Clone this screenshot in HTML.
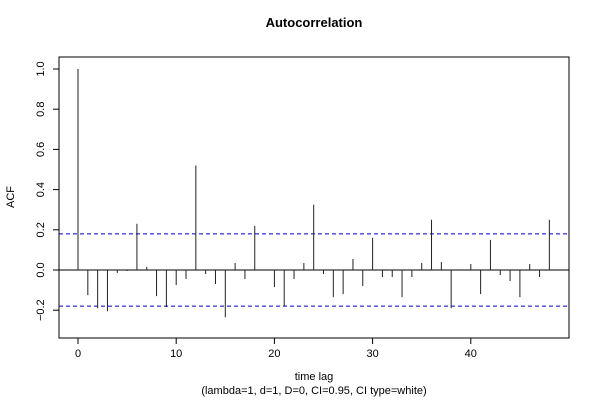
<!DOCTYPE html>
<html><head><meta charset="utf-8"><style>body{margin:0;background:#fff}svg{display:block;font-family:"Liberation Sans",sans-serif}</style></head>
<body>
<svg id="c" width="600" height="400"></svg>
<script>
const lags=[0,1,2,3,4,5,6,7,8,9,10,11,12,13,14,15,16,17,18,19,20,21,22,23,24,25,26,27,28,29,30,31,32,33,34,35,36,37,38,39,40,41,42,43,44,45,46,47,48];
const acf=[1.0,-0.125,-0.19,-0.205,-0.015,-0.005,0.23,0.015,-0.13,-0.185,-0.075,-0.045,0.52,-0.02,-0.07,-0.235,0.035,-0.045,0.22,0,-0.085,-0.18,-0.045,0.035,0.325,-0.02,-0.135,-0.12,0.055,-0.08,0.16,-0.035,-0.035,-0.135,-0.035,0.035,0.25,0.04,-0.19,0,0.03,-0.12,0.15,-0.025,-0.055,-0.135,0.03,-0.035,0.25];
const ci=[0.18];
const xTicks=[0,10,20,30,40];
const yTicks=[-0.2,0,0.2,0.4,0.6,0.8,1.0];
const yLabels=["−0.2","0.0","0.2","0.4","0.6","0.8","1.0"];
const NS="http://www.w3.org/2000/svg",svg=document.getElementById('c');
const X=v=>78+v*9.82, Y=v=>270-v*201;
function el(t,a,txt){const e=document.createElementNS(NS,t);for(const k in a)e.setAttribute(k,a[k]);if(txt!=null)e.textContent=txt;svg.appendChild(e);return e;}
let e;
e=el('rect',{x:59,y:57,width:510,height:281,fill:'none',stroke:'#000'});


e=el('text',{x:314,y:27,'text-anchor':'middle','font-size':13,'font-weight':'bold'},'Autocorrelation');


e=el('line',{x1:59,x2:569,y1:Y(0),y2:Y(0),stroke:'#000'});


ci.forEach(c=>[c,-c].forEach(v=>{
e=el('line',{x1:59,x2:569,y1:Y(v),y2:Y(v),stroke:'#0000cc','stroke-dasharray':'4,3'});


}));
lags.forEach((l,i)=>{
e=el('line',{x1:X(l),x2:X(l),y1:Y(0),y2:Y(acf[i]),stroke:'#222'});


});
xTicks.forEach(t=>{
e=el('line',{x1:X(t),x2:X(t),y1:338,y2:344,stroke:'#000'});


e=el('text',{x:X(t),y:357,'text-anchor':'middle','font-size':11},String(t));


});
yTicks.forEach((t,i)=>{
e=el('line',{x1:53,x2:59,y1:Y(t),y2:Y(t),stroke:'#000'});


e=el('text',{x:0,y:0,'text-anchor':'middle','font-size':11,transform:`translate(44,${Y(t)}) rotate(-90)`},yLabels[i]);


});
e=el('text',{x:0,y:0,'text-anchor':'middle','font-size':11,transform:'translate(14,197) rotate(-90)'},'ACF');


e=el('text',{x:314,y:380,'text-anchor':'middle','font-size':11},'time lag');


e=el('text',{x:314,y:394,'text-anchor':'middle','font-size':11},'(lambda=1, d=1, D=0, CI=0.95, CI type=white)');


</script>
</body></html>
